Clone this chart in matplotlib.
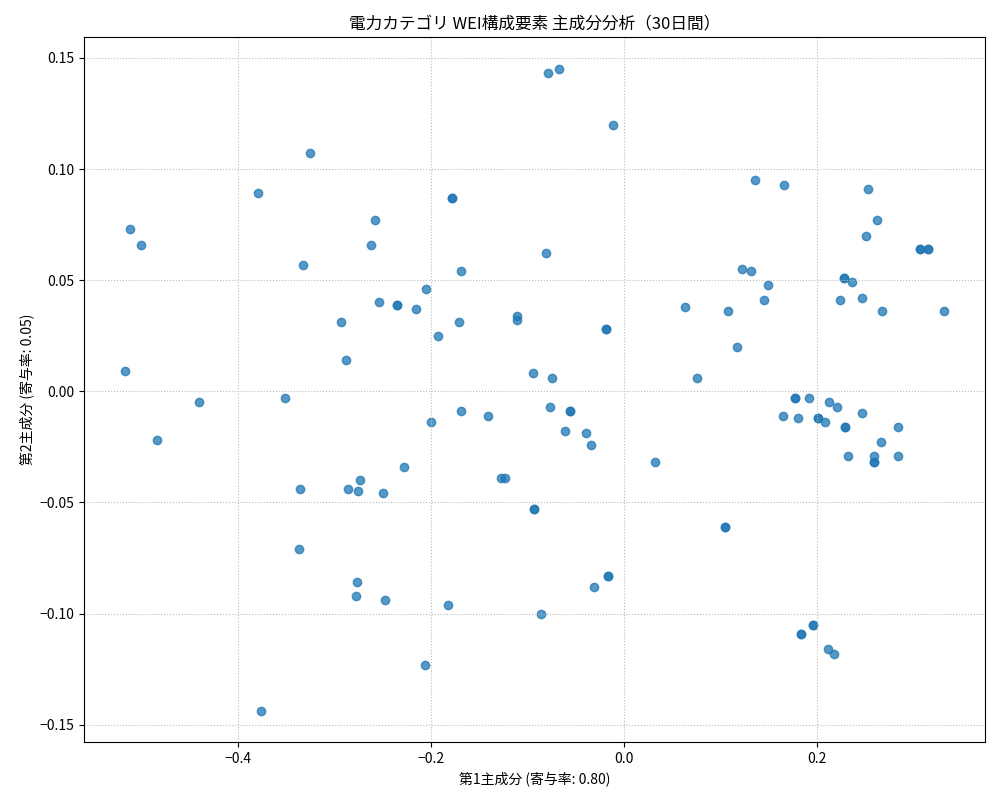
import matplotlib
matplotlib.use("Agg")
import matplotlib.pyplot as plt

plt.rcParams['font.family'] = ['Noto Sans CJK JP', 'DejaVu Sans']

pc1 = [-0.079,-0.068,-0.012,-0.326,-0.380,-0.512,-0.501,-0.179,-0.179,-0.258,-0.263,-0.333,-0.169,-0.254,
       -0.236,-0.236,-0.216,-0.205,-0.294,-0.171,-0.193,-0.288,-0.111,-0.111,-0.081,-0.019,-0.019,-0.517,
       -0.441,-0.484,-0.352,-0.200,-0.169,-0.141,-0.095,-0.075,-0.077,-0.056,-0.056,-0.061,-0.040,-0.034,
       -0.228,-0.274,-0.286,-0.336,-0.276,-0.250,-0.128,-0.124,-0.094,-0.094,-0.337,-0.277,-0.278,-0.248,
       -0.183,-0.086,-0.031,-0.017,-0.017,-0.207,-0.376,0.032,0.063,0.075,0.108,0.117,0.122,0.131,0.136,
       0.166,0.145,0.149,0.104,0.104,0.165,0.177,0.177,0.180,0.192,0.201,0.201,0.208,0.212,0.221,0.229,
       0.229,0.232,0.247,0.259,0.259,0.259,0.266,0.284,0.284,0.262,0.253,0.251,0.228,0.228,0.236,0.224,
       0.246,0.267,0.307,0.307,0.315,0.315,0.332,0.183,0.183,0.196,0.196,0.211,0.217]
pc2 = [0.143,0.145,0.120,0.107,0.089,0.073,0.066,0.087,0.087,0.077,0.066,0.057,0.054,0.040,
       0.039,0.039,0.037,0.046,0.031,0.031,0.025,0.014,0.034,0.032,0.062,0.028,0.028,0.009,
       -0.005,-0.022,-0.003,-0.014,-0.009,-0.011,0.008,0.006,-0.007,-0.009,-0.009,-0.018,-0.019,-0.024,
       -0.034,-0.040,-0.044,-0.044,-0.045,-0.046,-0.039,-0.039,-0.053,-0.053,-0.071,-0.086,-0.092,-0.094,
       -0.096,-0.100,-0.088,-0.083,-0.083,-0.123,-0.144,-0.032,0.038,0.006,0.036,0.020,0.055,0.054,0.095,
       0.093,0.041,0.048,-0.061,-0.061,-0.011,-0.003,-0.003,-0.012,-0.003,-0.012,-0.012,-0.014,-0.005,-0.007,-0.016,
       -0.016,-0.029,-0.010,-0.032,-0.032,-0.029,-0.023,-0.016,-0.029,0.077,0.091,0.070,0.051,0.051,0.049,0.041,
       0.042,0.036,0.064,0.064,0.064,0.064,0.036,-0.109,-0.109,-0.105,-0.105,-0.116,-0.118]

fig, ax = plt.subplots(figsize=(10, 8), dpi=100)
ax.scatter(pc1, pc2, s=36, alpha=0.75, color='#1f77b4')
ax.set_xlim(-0.56, 0.374)
ax.set_ylim(-0.158, 0.1595)
ax.grid(True, linestyle=':', color='#bbbbbb')
ax.set_title('電力カテゴリ WEI構成要素 主成分分析（30日間）', fontsize=12)
ax.set_xlabel('第1主成分 (寄与率: 0.80)')
ax.set_ylabel('第2主成分 (寄与率: 0.05)')
fig.subplots_adjust(left=0.084, right=0.985, top=0.954, bottom=0.072)
fig.savefig('out.png')
